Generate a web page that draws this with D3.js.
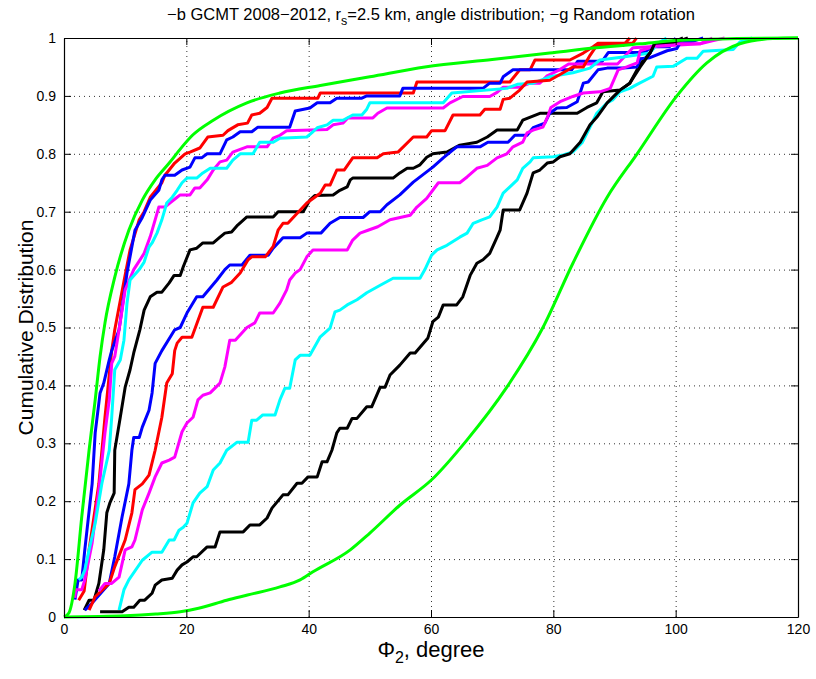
<!DOCTYPE html>
<html>
<head>
<meta charset="utf-8">
<script src="https://cdn.jsdelivr.net/npm/d3@7"></script>
<style>
  body { margin: 0; background: #fff; }
  text { font-family: "Liberation Sans", Arial, Helvetica, sans-serif; }
</style>
</head>
<body>
<div id="chart"></div>
<script>
const width = 816;
const height = 679;
const margin = {top: 38, right: 18, bottom: 62, left: 64};

// tick values
const xTicks = [0, 20, 40, 60, 80, 100, 120];
const yTicks = [0, 0.1, 0.2, 0.3, 0.4, 0.5, 0.6, 0.7, 0.8, 0.9, 1];

const redFast = [[2.4,0.029],[3.3,0.045],[4.1,0.116],[5.7,0.23],[6.7,0.345],[7.8,0.46],[8.3,0.496],[9.8,0.58],[10.8,0.634],[12.3,0.686],[13.1,0.70],[14.1,0.725],[16.0,0.75],[16.5,0.763],[18.1,0.784],[19.8,0.80],[20.6,0.803],[22.2,0.81],[23.5,0.829],[26.0,0.832],[26.8,0.84],[28.4,0.85],[30.0,0.853],[30.7,0.867],[32.0,0.87],[33.2,0.88],[34.0,0.896],[41.5,0.896],[41.9,0.905],[57.1,0.905],[57.7,0.924],[72.9,0.924],[74.5,0.945],[76.2,0.945],[77.0,0.962],[82.7,0.962],[84.9,0.974],[86.5,0.985],[87.3,0.991],[93.0,0.991],[93.6,1.0]];
const blueFast = [[1.8,0.03],[2.3,0.064],[2.9,0.064],[3.4,0.116],[4.6,0.23],[5.1,0.318],[5.9,0.387],[6.5,0.404],[7.4,0.444],[7.8,0.46],[9.0,0.496],[10.3,0.594],[11.6,0.668],[12.8,0.69],[14.1,0.72],[15.5,0.737],[16.0,0.755],[16.5,0.763],[18.1,0.763],[19.3,0.772],[20.6,0.777],[21.4,0.793],[22.5,0.793],[23.4,0.80],[25.5,0.80],[26.6,0.824],[27.6,0.829],[28.8,0.838],[30.7,0.838],[31.7,0.846],[36.9,0.846],[37.8,0.874],[40.2,0.879],[41.4,0.888],[43.5,0.888],[44.6,0.896],[48.7,0.896],[49.5,0.90],[54.9,0.90],[55.4,0.913],[68.5,0.913],[69.6,0.922],[71.3,0.922],[71.8,0.933],[73.4,0.945],[83.0,0.945],[84.0,0.96],[88.0,0.96],[89.0,0.975],[95.0,0.975],[96.0,0.985],[99.0,0.985],[100.0,1.0]];
const magentaFast = [[1.8,0.033],[1.9,0.047],[2.9,0.047],[3.4,0.064],[4.6,0.128],[5.7,0.22],[6.7,0.318],[7.4,0.375],[7.8,0.438],[8.3,0.45],[9.0,0.496],[10.0,0.565],[11.4,0.60],[13.1,0.628],[14.1,0.657],[14.9,0.686],[15.5,0.708],[16.5,0.708],[17.3,0.715],[18.5,0.725],[19.0,0.729],[20.6,0.729],[21.4,0.741],[22.2,0.741],[23.4,0.755],[24.4,0.772],[25.5,0.786],[26.6,0.789],[27.6,0.803],[29.9,0.812],[33.2,0.812],[34.2,0.827],[35.3,0.832],[36.4,0.84],[43.0,0.842],[44.0,0.85],[45.6,0.853],[46.4,0.862],[50.5,0.862],[51.3,0.87],[52.8,0.879],[62.0,0.879],[63.1,0.888],[65.2,0.899],[69.6,0.899],[70.8,0.906],[71.8,0.915],[74.5,0.915],[76.2,0.922],[77.8,0.922],[78.9,0.934],[81.0,0.945],[82.5,0.955],[90.5,0.955],[93.0,0.983],[104.0,0.99],[106.0,0.995],[108.0,1.0]];
const cyanFast = [[2.4,0.064],[2.9,0.069],[3.4,0.081],[4.1,0.116],[5.1,0.162],[6.2,0.231],[7.4,0.288],[7.8,0.345],[8.3,0.427],[9.2,0.444],[9.8,0.478],[10.3,0.542],[10.8,0.582],[12.3,0.60],[13.1,0.613],[13.9,0.639],[14.4,0.646],[15.2,0.663],[16.0,0.686],[16.8,0.715],[17.7,0.725],[18.5,0.737],[19.3,0.75],[20.1,0.758],[21.7,0.758],[22.7,0.767],[23.9,0.775],[26.6,0.775],[27.6,0.789],[28.8,0.80],[30.9,0.80],[32.0,0.82],[34.2,0.82],[35.3,0.827],[39.7,0.829],[40.5,0.836],[41.4,0.845],[43.0,0.85],[44.0,0.858],[45.6,0.858],[47.2,0.867],[48.7,0.867],[49.5,0.877],[50.0,0.888],[62.0,0.888],[63.4,0.905],[72.4,0.913],[74.1,0.92],[76.7,0.922],[79.4,0.933],[81.1,0.936],[83.2,0.94],[86.0,0.948],[87.6,0.962],[91.4,0.967],[95.8,0.974],[97.0,0.99],[98.5,1.0]];
const blackMid = [[3.3,0.012],[4.1,0.029],[4.9,0.029],[5.7,0.058],[6.5,0.116],[7.0,0.18],[7.5,0.197],[8.2,0.214],[8.3,0.288],[9.2,0.345],[10.0,0.397],[10.8,0.427],[11.4,0.456],[12.4,0.496],[13.1,0.53],[14.1,0.553],[15.2,0.561],[16.0,0.561],[17.2,0.577],[18.0,0.59],[19.0,0.59],[19.5,0.605],[20.6,0.634],[21.7,0.637],[22.7,0.646],[24.4,0.646],[25.5,0.656],[26.3,0.663],[27.4,0.665],[28.4,0.677],[29.9,0.691],[34.2,0.691],[35.0,0.70],[39.1,0.70],[40.2,0.72],[41.0,0.728],[44.0,0.729],[45.1,0.737],[46.3,0.743],[46.8,0.755],[47.2,0.758],[53.8,0.758],[54.9,0.767],[56.1,0.775],[57.1,0.775],[58.2,0.781],[59.3,0.794],[60.3,0.80],[62.6,0.803],[64.7,0.815],[67.5,0.82],[69.2,0.829],[70.8,0.841],[74.1,0.841],[75.0,0.858],[77.8,0.87],[83.9,0.87],[85.5,0.88],[87.1,0.888],[88.1,0.907],[90.9,0.91],[92.5,0.922],[94.2,0.955],[95.8,0.974],[96.6,0.991],[99.6,0.993],[101.2,1.0]];
const blueMid = [[3.4,0.012],[4.6,0.024],[7.4,0.058],[8.3,0.104],[9.5,0.173],[10.6,0.23],[11.1,0.288],[11.4,0.31],[12.3,0.31],[12.8,0.328],[13.9,0.357],[14.4,0.387],[14.9,0.438],[16.0,0.46],[18.1,0.496],[19.0,0.50],[20.1,0.525],[21.7,0.553],[22.7,0.553],[25.0,0.582],[26.3,0.60],[27.1,0.608],[29.1,0.608],[30.4,0.625],[33.4,0.625],[34.2,0.637],[35.8,0.655],[38.6,0.655],[39.7,0.663],[42.0,0.663],[43.5,0.68],[45.1,0.69],[48.9,0.69],[50.0,0.70],[51.7,0.70],[52.8,0.712],[54.9,0.729],[57.1,0.751],[60.3,0.777],[62.0,0.793],[64.2,0.812],[68.0,0.812],[69.3,0.82],[72.6,0.82],[73.7,0.832],[75.7,0.832],[76.7,0.845],[78.6,0.853],[79.4,0.87],[80.6,0.879],[82.2,0.88],[83.9,0.89],[84.9,0.922],[85.7,0.924],[87.3,0.945],[88.8,0.948],[91.4,0.948],[93.7,0.95],[94.2,0.964],[95.8,0.966],[98.6,0.978],[100.2,0.982],[100.7,0.991],[103.0,0.995],[104.5,1.0]];
const redMid = [[4.1,0.012],[5.1,0.035],[7.4,0.058],[8.3,0.087],[10.0,0.133],[11.1,0.18],[11.6,0.22],[12.8,0.23],[13.9,0.245],[14.9,0.288],[16.0,0.345],[16.8,0.404],[17.7,0.42],[18.1,0.46],[18.5,0.473],[19.3,0.483],[20.9,0.483],[22.7,0.535],[24.4,0.535],[26.0,0.57],[27.4,0.578],[28.8,0.594],[30.1,0.617],[30.7,0.622],[32.9,0.622],[34.2,0.64],[35.0,0.668],[35.8,0.68],[36.6,0.68],[39.7,0.715],[41.9,0.732],[42.7,0.746],[43.5,0.746],[44.6,0.772],[45.8,0.772],[47.2,0.793],[51.2,0.793],[52.2,0.80],[54.6,0.803],[57.1,0.829],[59.3,0.829],[60.1,0.84],[62.3,0.84],[63.6,0.867],[68.0,0.867],[68.8,0.877],[71.3,0.877],[71.8,0.894],[72.9,0.896],[74.5,0.91],[75.7,0.924],[79.4,0.927],[81.1,0.937],[83.2,0.95],[84.9,0.95],[86.0,0.97],[87.1,0.987],[91.4,0.987],[92.5,1.0]];
const magentaMid = [[5.7,0.045],[6.7,0.058],[7.8,0.058],[9.0,0.069],[10.0,0.116],[11.1,0.121],[11.6,0.133],[12.8,0.185],[13.9,0.214],[14.9,0.242],[16.0,0.266],[17.2,0.271],[18.1,0.276],[19.3,0.320],[20.1,0.335],[21.1,0.345],[21.9,0.375],[22.7,0.383],[23.9,0.387],[25.5,0.404],[26.3,0.432],[27.1,0.478],[28.0,0.478],[29.9,0.50],[31.2,0.508],[32.0,0.525],[34.2,0.525],[35.3,0.542],[36.4,0.565],[36.9,0.582],[37.8,0.594],[38.6,0.600],[39.7,0.622],[40.7,0.634],[46.3,0.634],[47.2,0.651],[48.4,0.663],[49.7,0.668],[51.3,0.674],[53.3,0.686],[56.6,0.694],[57.7,0.708],[59.3,0.723],[61.2,0.75],[64.7,0.75],[65.9,0.76],[67.5,0.775],[69.2,0.78],[70.8,0.793],[72.4,0.80],[73.4,0.812],[75.0,0.82],[75.7,0.836],[76.7,0.841],[78.3,0.846],[79.0,0.862],[79.6,0.88],[81.1,0.89],[83.2,0.899],[84.9,0.905],[87.6,0.907],[89.3,0.913],[90.6,0.945],[92.0,0.95],[93.7,0.957],[94.2,0.978],[96.9,0.987],[100.2,0.99],[104.0,0.99],[106.0,1.0]];
const cyanSlow = [[9.0,0.012],[9.8,0.047],[10.6,0.064],[12.8,0.098],[14.4,0.112],[16.0,0.112],[17.2,0.133],[18.0,0.133],[18.8,0.15],[19.5,0.155],[20.1,0.162],[21.1,0.197],[22.2,0.214],[23.4,0.225],[24.4,0.254],[25.5,0.266],[26.6,0.288],[28.3,0.302],[30.1,0.302],[30.7,0.34],[31.5,0.34],[32.5,0.349],[34.5,0.349],[35.3,0.375],[36.1,0.395],[36.9,0.395],[37.8,0.444],[38.6,0.452],[40.2,0.452],[41.9,0.484],[43.5,0.499],[44.3,0.527],[45.1,0.53],[46.3,0.539],[47.9,0.548],[49.5,0.56],[51.7,0.573],[53.8,0.585],[58.2,0.585],[59.0,0.60],[60.1,0.625],[61.0,0.634],[62.6,0.642],[64.7,0.656],[65.9,0.663],[66.9,0.68],[68.3,0.686],[69.6,0.691],[70.8,0.708],[71.8,0.732],[72.9,0.743],[74.1,0.755],[75.0,0.775],[76.2,0.786],[76.7,0.793],[80.0,0.795],[81.6,0.798],[83.2,0.803],[84.7,0.819],[86.0,0.846],[87.1,0.87],[88.8,0.888],[89.7,0.893],[90.9,0.907],[92.5,0.913],[93.7,0.92],[96.3,0.934],[96.9,0.95],[99.6,0.951],[101.8,0.965],[103.5,0.965],[104.5,0.977],[109.4,0.98],[110.5,0.993],[111.7,0.997],[112.5,1.0]];
const blackSlow = [[5.9,0.009],[9.5,0.009],[10.6,0.017],[11.4,0.017],[12.4,0.029],[13.2,0.029],[14.4,0.041],[14.9,0.055],[16.0,0.064],[17.7,0.067],[18.5,0.081],[19.3,0.09],[20.1,0.095],[21.1,0.104],[21.7,0.104],[23.4,0.121],[24.7,0.121],[25.5,0.147],[29.3,0.147],[30.4,0.159],[32.0,0.159],[33.2,0.171],[34.0,0.188],[35.8,0.211],[36.6,0.211],[38.1,0.231],[38.9,0.231],[39.9,0.242],[41.4,0.242],[42.2,0.268],[43.0,0.268],[43.8,0.288],[44.6,0.318],[45.1,0.326],[46.3,0.326],[47.1,0.343],[47.9,0.343],[49.5,0.363],[50.3,0.363],[51.7,0.397],[52.5,0.397],[53.3,0.418],[54.9,0.435],[56.6,0.456],[57.4,0.456],[59.5,0.482],[60.3,0.51],[61.2,0.518],[62.0,0.539],[64.2,0.539],[65.2,0.553],[66.4,0.59],[67.5,0.611],[68.5,0.617],[69.6,0.628],[70.8,0.656],[71.3,0.668],[71.8,0.703],[74.5,0.703],[75.7,0.732],[76.7,0.767],[77.8,0.772],[79.0,0.784],[80.0,0.786],[81.1,0.795],[82.7,0.80],[84.4,0.82],[86.0,0.85],[87.1,0.863],[88.8,0.888],[90.9,0.91],[92.5,0.922],[94.2,0.95],[95.8,0.974],[96.6,0.991],[99.6,0.993],[101.2,0.997],[102.0,1.0]];

// reference curves (green)
const greenUpper = [[0,0],[0.8,0.007],[1.8,0.058],[2.9,0.173],[4.1,0.288],[5.1,0.375],[5.9,0.45],[6.7,0.508],[8.3,0.587],[10.6,0.668],[12.8,0.72],[14.9,0.755],[17.2,0.784],[19.3,0.812],[21.0,0.832],[24.4,0.858],[29.9,0.888],[35.3,0.905],[41.9,0.918],[50.0,0.933],[59.0,0.95],[70.0,0.963],[79.4,0.974],[87.0,0.983],[94.2,0.99],[100.7,0.996],[110.0,0.999],[120,1.0]];
const greenLower = [[0,0],[10,0.002],[15,0.005],[19,0.009],[22,0.015],[26.6,0.029],[30,0.038],[35.3,0.052],[38.6,0.064],[40.7,0.078],[46.8,0.116],[50,0.145],[54.9,0.193],[60.1,0.237],[65.9,0.306],[72.4,0.397],[78.3,0.50],[83.2,0.611],[88.8,0.725],[93.7,0.80],[100.2,0.90],[105.1,0.957],[110.5,0.99],[115.9,0.999],[120,1.0]];

const series = [
    {data: redFast, color: '#ff0000'},
    {data: blueFast, color: '#0000ff'},
    {data: magentaFast, color: '#ff00ff'},
    {data: cyanFast, color: '#00ffff'},
    {data: blackMid, color: '#000000'},
    {data: blueMid, color: '#0000ff'},
    {data: redMid, color: '#ff0000'},
    {data: magentaMid, color: '#ff00ff'},
    {data: cyanSlow, color: '#00ffff'},
    {data: blackSlow, color: '#000000'}
];

const svg = d3.select('#chart')
    .append('svg')
    .attr('width', width)
    .attr('height', height);

const w = width - margin.left - margin.right;
const h = height - margin.top - margin.bottom;

const x = d3.scaleLinear().domain([0, 120]).range([margin.left, margin.left + w]);
const y = d3.scaleLinear().domain([0, 1]).range([margin.top + h, margin.top]);

// dotted grid
const grid = svg.append('g').attr('class', 'grid');
grid.append('g')
    .attr('transform', `translate(0,${margin.top + h})`)
    .call(d3.axisBottom(x).tickValues(xTicks.slice(1, -1)).tickSize(-h).tickFormat(''));
grid.append('g')
    .attr('transform', `translate(${margin.left},0)`)
    .call(d3.axisLeft(y).tickValues(yTicks.slice(1, -1)).tickSize(-w).tickFormat(''));
grid.selectAll('.domain').remove();
grid.selectAll('line')
    .attr('stroke', '#333')
    .attr('stroke-width', 1)
    .attr('stroke-dasharray', '1,4');

// curves
const line = d3.line().x(d => x(d[0])).y(d => y(d[1]));
const smooth = d3.line().x(d => x(d[0])).y(d => y(d[1])).curve(d3.curveMonotoneX);

series.forEach(s => {
    svg.append('path')
        .attr('d', line(s.data))
        .attr('fill', 'none')
        .attr('stroke', s.color)
        .attr('stroke-width', 3)
        .attr('stroke-linejoin', 'round');
});

[greenUpper, greenLower].forEach(g => {
    svg.append('path')
        .attr('d', smooth(g))
        .attr('fill', 'none')
        .attr('stroke', '#00ff00')
        .attr('stroke-width', 3);
});

// axes: ticks pointing inward on all four sides
const tickLen = 7;
const axB = svg.append('g')
    .attr('transform', `translate(0,${margin.top + h})`)
    .call(d3.axisBottom(x).tickValues(xTicks).tickSizeInner(-tickLen).tickSizeOuter(0).tickPadding(7).tickFormat(d3.format('d')));
const axT = svg.append('g')
    .attr('transform', `translate(0,${margin.top})`)
    .call(d3.axisTop(x).tickValues(xTicks).tickSizeInner(-tickLen).tickSizeOuter(0).tickFormat(''));
const axL = svg.append('g')
    .attr('transform', `translate(${margin.left},0)`)
    .call(d3.axisLeft(y).tickValues(yTicks).tickSizeInner(-tickLen).tickSizeOuter(0).tickPadding(8).tickFormat(d => d === 0 || d === 1 ? d3.format('d')(d) : d3.format('.1f')(d)));
const axR = svg.append('g')
    .attr('transform', `translate(${margin.left + w},0)`)
    .call(d3.axisRight(y).tickValues(yTicks).tickSizeInner(-tickLen).tickSizeOuter(0).tickFormat(''));

[axB, axT, axL, axR].forEach(a => {
    a.selectAll('.domain').attr('stroke', '#000').attr('stroke-width', 1.2);
    a.selectAll('line').attr('stroke', '#000').attr('stroke-width', 1);
    a.selectAll('text').attr('fill', '#000').style('font-size', '14px');
});

// title
const title = svg.append('text')
    .attr('x', margin.left + w / 2)
    .attr('y', 20)
    .attr('text-anchor', 'middle')
    .style('font-size', '16.5px');
title.append('tspan').text('\u2212b GCMT 2008\u22122012, r');
title.append('tspan').attr('dy', 5).style('font-size', '12.5px').text('s');
title.append('tspan').attr('dy', -5).text('=2.5 km, angle distribution; \u2212g Random rotation');

// axis labels
const xl = svg.append('text')
    .attr('x', margin.left + w / 2)
    .attr('y', 657)
    .attr('text-anchor', 'middle')
    .style('font-size', '22px');
xl.append('tspan').text('\u03A6');
xl.append('tspan').attr('dy', 6).style('font-size', '16px').text('2');
xl.append('tspan').attr('dy', -6).text(', degree');

svg.append('text')
    .attr('transform', `translate(33,${margin.top + h / 2}) rotate(-90)`)
    .attr('text-anchor', 'middle')
    .style('font-size', '21px')
    .text('Cumulative Distribution');
</script>
</body>
</html>
